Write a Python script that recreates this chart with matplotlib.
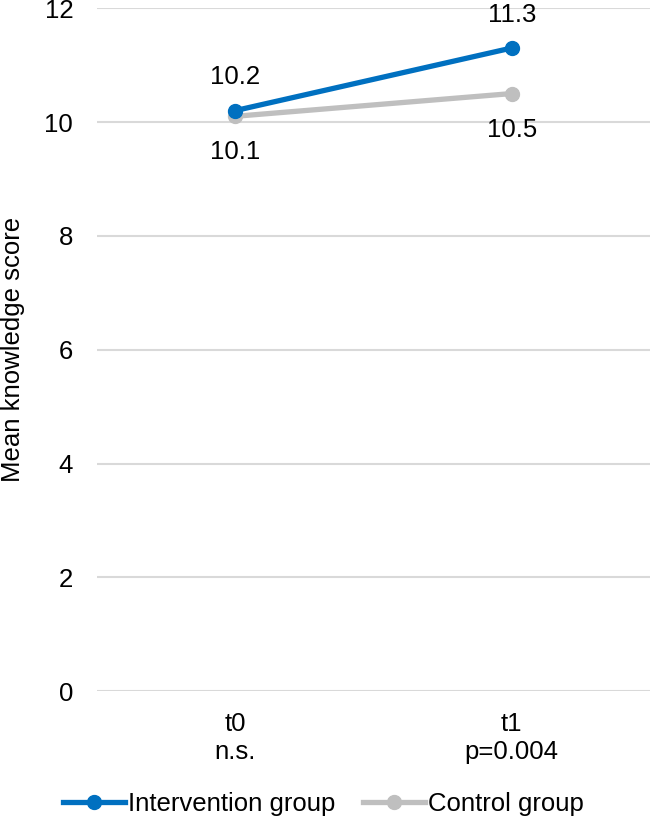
import matplotlib.pyplot as plt

plt.rcParams['font.family'] = ['Liberation Sans', 'DejaVu Sans']

categories = ['t0\nn.s.', 't1\np=0.004']
intervention = [10.2, 11.3]
control = [10.1, 10.5]
series_names = ['Intervention group', 'Control group']

blue = '#0070C0'
gray = '#BFBFBF'
fs = 18.5

fig = plt.figure(figsize=(6.5, 8.17), dpi=100)
ax = fig.add_axes([0.149, 0.154, 0.851, 0.836])

x = list(range(len(categories)))
ax.plot(x, intervention, '-o', color=blue, lw=3.8, ms=10, label=series_names[0], zorder=3)
ax.plot(x, control, '-o', color=gray, lw=3.8, ms=10, label=series_names[1], zorder=2)

# data labels: intervention above, control below
for xi, v in zip(x, intervention):
    ax.annotate(f'{v:.1f}', (xi, v), xytext=(0, 24), textcoords='offset points',
                ha='center', va='center', fontsize=fs)
for xi, v in zip(x, control):
    ax.annotate(f'{v:.1f}', (xi, v), xytext=(0, -26), textcoords='offset points',
                ha='center', va='center', fontsize=fs)

ax.set_xlim(-0.5, 1.5)
ax.set_ylim(0, 12)
ax.set_yticks(range(0, 13, 2))
ax.set_xticks(x)
ax.set_xticklabels(categories, fontsize=fs, linespacing=1.2)
ax.tick_params(axis='y', labelsize=fs, length=0, pad=17)
ax.tick_params(axis='x', length=0, pad=15)
ax.grid(axis='y', color='#D9D9D9', lw=1.5)
ax.set_axisbelow(True)
for s in ax.spines.values():
    s.set_visible(False)
ax.set_ylabel('Mean knowledge score', fontsize=fs, labelpad=14)

fig.legend(loc='center left', bbox_to_anchor=(0.062, 0.016), ncol=2, frameon=False,
           fontsize=fs, handlelength=2.4, handletextpad=0.1, columnspacing=1.1)

fig.savefig('out.png', dpi=100)
